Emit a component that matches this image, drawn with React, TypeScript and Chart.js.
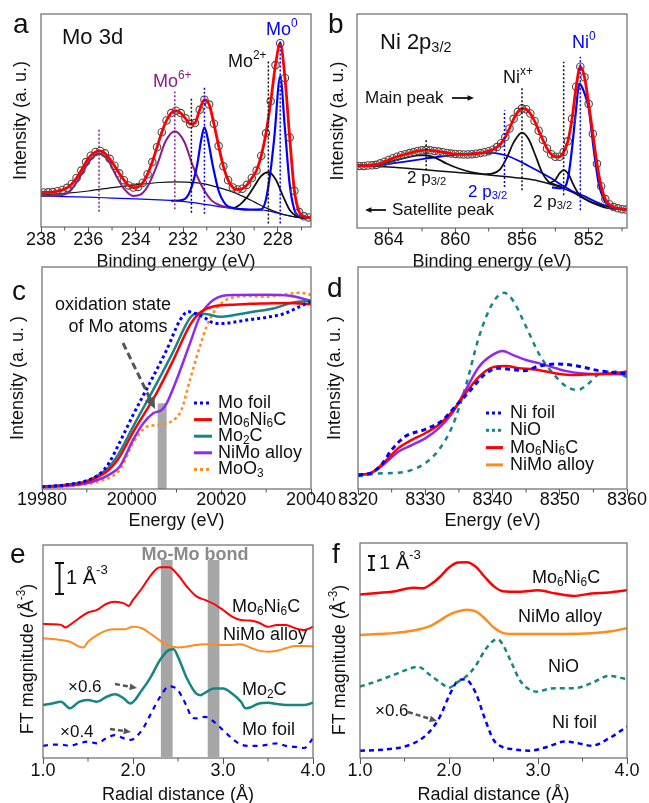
import React, { useEffect, useRef } from "react";
import { Chart, registerables } from "chart.js";

Chart.register(...registerables);

const FONT = "'Liberation Sans', Arial, Helvetica, sans-serif";
Chart.defaults.font.family = FONT;
Chart.defaults.color = "#111";

type P = [number, number];

// ---------------- (a) Mo 3d XPS ----------------
const moX = [238.1, 237.9, 237.7, 237.5, 237.3, 237.1, 236.9, 236.7, 236.5, 236.3, 236.1, 235.9, 235.7, 235.5, 235.3, 235.1, 234.9, 234.7, 234.5, 234.3, 234.1, 233.9, 233.7, 233.5, 233.3, 233.1, 232.9, 232.7, 232.5, 232.3, 232.1, 231.9, 231.7, 231.5, 231.3, 231.1, 230.9, 230.7, 230.5, 230.3, 230.1, 229.9, 229.7, 229.5, 229.3, 229.1, 228.9, 228.7, 228.5, 228.3, 228.1, 227.9, 227.7, 227.5, 227.3, 227.1, 226.9, 226.7, 226.5];
const moExp = [16.1, 16.2, 16.3, 16.4, 16.8, 17.4, 18.4, 20.2, 23.0, 26.5, 30.5, 33.5, 35.2, 35.7, 34.6, 32.0, 28.8, 25.2, 22.0, 19.5, 18.5, 18.8, 20.8, 24.8, 30.5, 37.5, 44.5, 50.0, 53.5, 54.6, 53.5, 51.0, 48.3, 48.8, 55.0, 59.8, 57.5, 48.5, 38.0, 28.5, 22.0, 18.6, 17.6, 18.0, 19.8, 23.0, 26.5, 33.5, 44.0, 59.0, 76.0, 86.3, 70.0, 42.0, 17.0, 7.0, 5.0, 4.5, 4.3];
const moBgBlue: P[] = [[238.1, 14.5], [237, 14.3], [236, 14], [235, 13.6], [234, 13.2], [233, 12.7], [232, 12], [231, 10.5], [230, 8.8], [229, 8.1], [228.4, 7.6], [228, 6.5], [227.6, 5.4], [227.2, 4.6], [226.5, 4.2]];
const moBgBlack: P[] = [[238.1, 15], [237, 15.8], [236, 16.9], [235, 18.5], [234, 19.8], [233, 20.9], [232.3, 21.2], [231.5, 20.8], [231, 20], [230.5, 18.5], [230, 16.8], [229.5, 14.5], [229, 11.8], [228.5, 9], [228, 6.8], [227.5, 5.2], [227, 4.3], [226.5, 4.2]];
const moMo2: P[] = [[229.9, 8.5], [229.6, 10.5], [229.3, 14], [229, 19], [228.7, 24], [228.4, 25.7], [228.1, 22.5], [227.8, 15], [227.5, 8], [227.2, 5], [226.9, 4.3]];
const moMo0: P[] = [[232.5, 12.3], [232.0, 12.8], [231.7, 17], [231.4, 29.5], [231.25, 40], [231.1, 46.8], [230.95, 41], [230.75, 29], [230.5, 17], [230.2, 10.5], [229.9, 9], [229.2, 8.2], [228.7, 8.3], [228.5, 13], [228.3, 27], [228.15, 42], [227.9, 70.7], [227.7, 46], [227.5, 20], [227.3, 8], [227.1, 5], [226.8, 4.3]];
const moMo6: P[] = [[238.1, 14.6], [237.3, 14.8], [236.8, 16.5], [236.3, 24.5], [235.95, 31], [235.55, 34.5], [235.15, 31], [234.85, 24.5], [234.5, 18], [234.1, 14.6], [233.8, 15.2], [233.5, 19], [233.1, 29], [232.75, 40], [232.35, 45], [231.95, 40], [231.6, 29], [231.2, 19], [230.8, 12.5], [230.4, 10], [230, 9]];
const moMarkX = [235.55, 232.35, 231.65, 231.1, 228.4, 227.9];
const moMarkLo = [7.2, 8.3, 6.7, 6.2, 1.7, 1.7];
const moMarkHi = [46, 63.6, 61, 65.7, 78.5, 87.8];
const aTicks = [228, 230, 232, 234, 236, 238];
const aMinor = [227, 229, 231, 233, 235, 237];

// ---------------- (b) Ni 2p3/2 XPS ----------------
const niX = [866.0, 865.75, 865.5, 865.25, 865.0, 864.75, 864.5, 864.25, 864.0, 863.75, 863.5, 863.25, 863.0, 862.75, 862.5, 862.25, 862.0, 861.75, 861.5, 861.25, 861.0, 860.75, 860.5, 860.25, 860.0, 859.75, 859.5, 859.25, 859.0, 858.75, 858.5, 858.25, 858.0, 857.75, 857.5, 857.25, 857.0, 856.75, 856.5, 856.25, 856.0, 855.75, 855.5, 855.25, 855.0, 854.75, 854.5, 854.25, 854.0, 853.75, 853.5, 853.25, 853.0, 852.75, 852.5, 852.25, 852.0, 851.75, 851.5, 851.25, 851.0, 850.75, 850.5, 850.25, 850.0, 849.75, 849.5];
const niExp = [29, 29, 29, 29.2, 29.3, 29.5, 30.2, 31, 31.8, 32.6, 33.3, 34, 34.5, 35, 35.5, 36, 36.3, 36.4, 36.3, 36, 35.7, 35.4, 35.1, 34.8, 34.6, 34.5, 34.4, 34.4, 34.5, 34.7, 35, 35.4, 35.9, 36.6, 37.8, 39.6, 42.5, 46.5, 51, 54.3, 55.9, 55.5, 53.5, 50, 45.5, 41.2, 37.2, 34.5, 33.3, 33.3, 35.5, 40.5, 51, 66, 75.4, 70.5, 58, 44, 30, 19.5, 13.5, 11, 9.8, 9.2, 8.8, 8.6, 8.5];
const niBgBlack: P[] = [[866, 29.3], [864, 28.5], [862, 27.3], [860, 26], [858, 24.8], [856, 23.2], [855, 22], [854, 19.8], [853, 16.8], [852, 12.5], [851, 9.5], [850, 8.7], [849.5, 8.6]];
const niSat: P[] = [[866, 29.3], [865, 29.6], [864, 30.8], [863, 32.8], [862.2, 33.9], [861.8, 34], [861.2, 32.8], [860.5, 30], [859.8, 27.8], [859.0, 26], [858.3, 25.1]];
const niNix: P[] = [[858.3, 25.1], [857.8, 25.4], [857.3, 27.5], [856.9, 33], [856.5, 40], [856.0, 44.6], [855.6, 41.5], [855.2, 34], [854.8, 26], [854.4, 21.5], [854.0, 20.2], [853.6, 19.3]];
const niSmall: P[] = [[854.4, 20.8], [854.0, 22.5], [853.75, 25.5], [853.5, 27], [853.2, 25], [852.9, 20], [852.6, 16], [852.2, 13.5], [851.8, 12], [851, 10], [850, 8.7]];
const niBlueBroad: P[] = [[866, 29], [865, 29.2], [864, 29.9], [863, 31], [862, 32.2], [861, 33.3], [860, 34.2], [859, 34.9], [858.3, 35.1], [857.6, 35], [857, 34], [856.3, 31.8], [855.6, 29], [855, 26.5], [854.3, 23.5], [853.6, 20], [853, 17.3], [852.3, 15], [851.6, 12.3], [851, 10.5], [850.3, 9.2], [849.5, 8.6]];
const niNi0: P[] = [[854.2, 19], [853.7, 18.5], [853.4, 19.5], [853.2, 25], [853.0, 37], [852.8, 52], [852.55, 67.5], [852.3, 64], [852.0, 56], [851.7, 37], [851.4, 21], [851.1, 13.5], [850.8, 10.5], [850.3, 9.2], [849.5, 8.6]];
const niMarkX = [861.75, 857.05, 856.0, 853.5, 852.5];
const niMarkLo = [27, 19.2, 17.6, 15.3, 8.3];
const niMarkHi = [41.8, 55, 66, 77.7, 80];
const bTicks = [852, 856, 860, 864];
const bMinor = [850, 854, 858, 862];

// ---------------- (c) Mo K-edge XANES ----------------
const cMoFoil: P[] = [[19980, 1], [19985, 1.8], [19990, 3.8], [19993, 7], [19995, 11.9], [19997.3, 20.9], [20000.3, 33.3], [20004, 47.6], [20007.8, 62.6], [20010.8, 76.1], [20012.6, 79.9], [20014, 79.2], [20016, 77.5], [20018, 75], [20020, 74.5], [20023, 75.2], [20026, 76.2], [20030, 77.3], [20034, 79], [20037.5, 82.2], [20040, 84.5]];
const cMo6Ni6C: P[] = [[19980, 1], [19985, 1.7], [19990, 3.3], [19993, 6], [19995, 8.8], [19997, 13.5], [20000.3, 25.5], [20003, 34.5], [20005.5, 43], [20009.3, 58.1], [20013, 73.8], [20015.2, 79.4], [20018.2, 82.2], [20022, 83], [20026, 83.4], [20030, 83.6], [20035, 83.8], [20040, 83.2]];
const cMo2C: P[] = [[19980, 1], [19985, 1.8], [19990, 3.6], [19993, 6.8], [19995, 10], [19997, 15.5], [20000.3, 28], [20005.7, 48], [20009.3, 62], [20013, 77], [20014.5, 79.1], [20017, 78.7], [20019.7, 77.6], [20022.7, 78.3], [20027.1, 79.8], [20031.6, 81.3], [20036, 84], [20040, 84.8]];
const cNiMo: P[] = [[19980, 0.8], [19985, 1.3], [19990, 2.6], [19993, 4.5], [19995, 6.5], [19997.3, 10], [20000.3, 22], [20002.6, 29.6], [20004.8, 34.1], [20006.7, 35.6], [20007.8, 38.6], [20010, 49.1], [20013, 65.6], [20015.2, 77.6], [20018.2, 85.1], [20022.7, 87.4], [20030.1, 87.5], [20035.3, 87], [20040, 84.8]];
const cMoO3: P[] = [[19980, 0.8], [19985, 1.2], [19990, 2.2], [19993, 3.6], [19995, 5], [19997.5, 9], [20000.3, 20.6], [20003.3, 28], [20005.5, 28.8], [20009.3, 31], [20011.1, 35.6], [20013, 49.1], [20015.2, 64.1], [20016.7, 73.1], [20018.9, 81.3], [20021.9, 85.9], [20026.4, 86.9], [20030.1, 86.6], [20034.6, 87.8], [20037.6, 88.4], [20040, 87.4]];
const cBar = [20005.8, 20007.8, 38.6];
const cTicks = [19980, 20000, 20020, 20040];
const cMinor = [19990, 20010, 20030];
const cNames = ["Mo foil", "Mo_{6}Ni_{6}C", "Mo_{2}C", "NiMo alloy", "MoO_{3}"];

// ---------------- (d) Ni K-edge XANES ----------------
const dNiFoil: P[] = [[8320, 6.3], [8322, 7.3], [8323.5, 11], [8325, 17.6], [8327, 23.6], [8330, 26.9], [8332.4, 30.6], [8335, 38.9], [8336.4, 43.4], [8338.9, 51.8], [8340.9, 54.4], [8342.9, 53.8], [8344.8, 53.3], [8346.8, 55.3], [8349.8, 56.3], [8352.8, 55.3], [8355.8, 53.3], [8360, 51.8]];
const dNiO: P[] = [[8320, 5.8], [8323, 7], [8326, 7.3], [8328, 8.6], [8330, 11.6], [8332, 17.6], [8334, 28.1], [8336, 46.1], [8338, 68.6], [8340, 83.6], [8341.7, 88.4], [8343, 85.1], [8345, 73.1], [8347, 60.4], [8349, 52.1], [8351, 46.1], [8352.7, 44.6], [8354, 46.8], [8356, 52.1], [8358, 52.9], [8360, 50.3]];
const dMo6Ni6C: P[] = [[8320, 6.3], [8322, 7.3], [8324, 12.3], [8326, 18.4], [8328, 22.1], [8330, 25.1], [8332, 28.9], [8334, 34.9], [8336, 43.1], [8338, 50.6], [8340, 54.8], [8342, 55.4], [8344, 54.4], [8346, 53.9], [8348, 52.9], [8350, 51.8], [8352, 51.3], [8354, 51.6], [8356, 51.8], [8358, 52.1], [8360, 52.9]];
const dNiMo: P[] = [[8320, 6.3], [8322, 7.3], [8324, 11.5], [8326, 16.8], [8328, 19.8], [8330, 22.8], [8332, 27.3], [8334, 34.1], [8336, 44.6], [8338, 55.1], [8340, 60.4], [8341.5, 62.2], [8343, 60.4], [8345, 58.1], [8347, 56.6], [8349, 54.8], [8351, 53.1], [8353, 52.1], [8355, 51.8], [8357, 51.8], [8360, 51.6]];
const dTicks = [8320, 8330, 8340, 8350, 8360];
const dMinor = [8325, 8335, 8345, 8355];
const dNames = ["Ni foil", "NiO", "Mo_{6}Ni_{6}C", "NiMo alloy"];

// ---------------- (e) Mo K-edge FT-EXAFS ----------------
const eMo6Ni6C: P[] = [[1, 62.9], [1.1, 62.8], [1.2, 62.5], [1.25, 61.3], [1.3, 62.5], [1.4, 65.6], [1.5, 68.3], [1.6, 69.5], [1.7, 72.3], [1.8, 73.4], [1.9, 72.6], [1.95, 71.4], [2.0, 74.2], [2.1, 79.7], [2.2, 85.9], [2.3, 89.5], [2.4, 89.5], [2.5, 85.9], [2.6, 80.4], [2.7, 76], [2.8, 74.2], [2.9, 72.3], [3.0, 69.5], [3.1, 66.4], [3.2, 64.8], [3.3, 64.5], [3.4, 63.5], [3.5, 61.6], [3.6, 62.5], [3.7, 62.5], [3.8, 60.9], [3.9, 60.1], [4.0, 61.6]];
const eNiMo: P[] = [[1, 56.2], [1.2, 55.4], [1.3, 54.6], [1.4, 52.3], [1.45, 51.9], [1.5, 54.6], [1.6, 57.7], [1.7, 59.8], [1.8, 60.4], [1.9, 60.4], [2.0, 61.6], [2.1, 60.9], [2.2, 58.2], [2.3, 55.1], [2.4, 52.7], [2.5, 51.9], [2.6, 52.3], [2.7, 53.1], [2.8, 53.4], [2.9, 53.1], [3.0, 53.1], [3.1, 53.1], [3.2, 53.4], [3.3, 51.9], [3.4, 50.4], [3.5, 49.9], [3.6, 50.4], [3.7, 51.5], [3.8, 52.6], [3.9, 52.6], [4.0, 52.3]];
const eMo2C: P[] = [[1, 24.9], [1.1, 25.6], [1.2, 26.4], [1.3, 23.3], [1.4, 26.4], [1.5, 27.2], [1.6, 26.4], [1.7, 28.6], [1.8, 29.9], [1.9, 27.9], [1.97, 25.6], [2.1, 31.9], [2.2, 38.2], [2.3, 46], [2.4, 50.7], [2.45, 51], [2.5, 47.5], [2.6, 37.3], [2.7, 30.3], [2.75, 29.5], [2.8, 30.6], [2.9, 32.6], [3.0, 32.6], [3.1, 30.3], [3.2, 26.4], [3.25, 23.3], [3.3, 23.7], [3.4, 25.6], [3.5, 25.9], [3.6, 25.3], [3.7, 24.9], [3.8, 24.9], [3.9, 24.9], [4.0, 25.9]];
const eMoFoil: P[] = [[1, 5.7], [1.1, 6.3], [1.2, 6.3], [1.3, 5.7], [1.4, 6.9], [1.5, 7.7], [1.6, 6.9], [1.7, 9.2], [1.8, 10.7], [1.9, 9.2], [1.97, 8.5], [2.1, 13.1], [2.2, 20.9], [2.3, 28.6], [2.4, 33.6], [2.45, 33.3], [2.5, 31.8], [2.6, 24], [2.65, 19.3], [2.7, 18.6], [2.8, 19.3], [2.9, 17], [3.0, 13.1], [3.1, 9.2], [3.2, 6.3], [3.3, 5.7], [3.4, 5.7], [3.5, 6.3], [3.6, 6.9], [3.7, 5.7], [3.8, 5.2], [3.9, 4.7], [4.0, 9.2]];
const eBondLo = [2.31, 2.83];
const eBondHi = [2.44, 2.96];
const eBondY = [0.5, 93];

// ---------------- (f) Ni K-edge FT-EXAFS ----------------
const fMo6Ni6C: P[] = [[1, 76.1], [1.2, 76.8], [1.4, 77.6], [1.6, 79.2], [1.7, 78.9], [1.8, 80.9], [1.9, 84.3], [2.0, 88.6], [2.1, 90.9], [2.2, 91.1], [2.3, 89], [2.4, 84.3], [2.5, 80], [2.6, 77.6], [2.8, 77.3], [3.0, 78], [3.2, 76.5], [3.4, 75.4], [3.6, 76.5], [3.8, 77], [4.0, 78]];
const fNiMo: P[] = [[1, 57.2], [1.2, 57.7], [1.4, 58.2], [1.6, 59.3], [1.8, 61.6], [1.9, 64], [2.0, 66.6], [2.1, 68.2], [2.2, 69], [2.3, 68.2], [2.4, 65], [2.5, 60.8], [2.6, 58.2], [2.7, 57.7], [3.0, 57.7], [3.3, 57.7], [3.6, 58], [3.8, 58.8], [4.0, 60.4]];
const fNiO: P[] = [[1, 33.2], [1.2, 35.9], [1.4, 39], [1.6, 42.1], [1.65, 42.4], [1.8, 38.2], [1.9, 35.2], [2.0, 32.7], [2.1, 35.4], [2.2, 38.2], [2.3, 42.9], [2.4, 49.9], [2.5, 54.6], [2.55, 55.1], [2.6, 53.1], [2.7, 44.5], [2.8, 35.9], [2.9, 32], [3.0, 30.8], [3.1, 32], [3.2, 32.4], [3.4, 32.4], [3.6, 34.8], [3.8, 38.2], [4.0, 36.6]];
const fNiFoil: P[] = [[1, 3.4], [1.2, 3.7], [1.4, 4.5], [1.5, 5.3], [1.6, 6.8], [1.7, 9.2], [1.8, 13.1], [1.9, 19.4], [2.0, 28.8], [2.1, 35.9], [2.18, 36.6], [2.3, 30.3], [2.4, 18.6], [2.5, 8.5], [2.6, 5.1], [2.7, 4.2], [2.9, 3.4], [3.1, 5.1], [3.3, 7.7], [3.45, 6.9], [3.6, 5.7], [3.8, 9.2], [4.0, 14.6]];
const efTicks = [1, 2, 3, 4];
const efMinor = [1.5, 2.5, 3.5];

// ---------------- colours ----------------
const RED = "#ff0000";
const BLUE = "#0000ff";
const PURPLE = "#8b1a8b";
const VIOLET = "#8f2bef";
const TEAL = "#168585";
const ORANGE = "#ff8c1a";
const BLACK = "#111111";
const DARK = "#555555";

// ---------------- helpers ----------------
type Seg = { t: string; k: 0 | 1 | 2 };
function parseRich(s: string): Seg[] {
  const out: Seg[] = [];
  const re = /\^\{([^}]*)\}|_\{([^}]*)\}/g;
  let last = 0;
  let m: RegExpExecArray | null;
  while ((m = re.exec(s))) {
    if (m.index > last) out.push({ t: s.slice(last, m.index), k: 0 });
    if (m[1] !== undefined) out.push({ t: m[1], k: 1 });
    else out.push({ t: m[2], k: 2 });
    last = re.lastIndex;
  }
  if (last < s.length) out.push({ t: s.slice(last), k: 0 });
  return out;
}

function rich(ctx: CanvasRenderingContext2D, s: string, x: number, y: number, size: number, color: string, align: "left" | "center" | "right" = "left", weight = "normal") {
  const segs = parseRich(s);
  const small = size * 0.66;
  ctx.save();
  let total = 0;
  const ws = segs.map((sg) => {
    ctx.font = `${weight} ${sg.k ? small : size}px ${FONT}`;
    const w = ctx.measureText(sg.t).width;
    total += w;
    return w;
  });
  let cx = align === "center" ? x - total / 2 : align === "right" ? x - total : x;
  ctx.fillStyle = color;
  ctx.textBaseline = "middle";
  ctx.textAlign = "left";
  segs.forEach((sg, i) => {
    ctx.font = `${weight} ${sg.k ? small : size}px ${FONT}`;
    const dy = sg.k === 1 ? -size * 0.36 : sg.k === 2 ? size * 0.24 : 0;
    ctx.fillText(sg.t, cx, y + dy);
    cx += ws[i];
  });
  ctx.restore();
}

function arrow(ctx: CanvasRenderingContext2D, x1: number, y1: number, x2: number, y2: number, color: string, width: number, dash: number[], head: number) {
  ctx.save();
  ctx.strokeStyle = color;
  ctx.fillStyle = color;
  ctx.lineWidth = width;
  const a = Math.atan2(y2 - y1, x2 - x1);
  ctx.setLineDash(dash);
  ctx.beginPath();
  ctx.moveTo(x1, y1);
  ctx.lineTo(x2 - Math.cos(a) * head * 0.8, y2 - Math.sin(a) * head * 0.8);
  ctx.stroke();
  ctx.setLineDash([]);
  ctx.beginPath();
  ctx.moveTo(x2, y2);
  ctx.lineTo(x2 - head * Math.cos(a - 0.42), y2 - head * Math.sin(a - 0.42));
  ctx.lineTo(x2 - head * Math.cos(a + 0.42), y2 - head * Math.sin(a + 0.42));
  ctx.closePath();
  ctx.fill();
  ctx.restore();
}

function frame(c: any, minor: number[], letter: string, lx: number, ly: number) {
  const ctx: CanvasRenderingContext2D = c.ctx;
  const { left, right, top, bottom } = c.chartArea;
  ctx.save();
  ctx.strokeStyle = "#6a6a6a";
  ctx.lineWidth = 1.2;
  ctx.strokeRect(left, top, right - left, bottom - top);
  ctx.strokeStyle = "#555";
  ctx.lineWidth = 1;
  minor.forEach((v) => {
    const x = c.scales.x.getPixelForValue(v);
    ctx.beginPath();
    ctx.moveTo(x, bottom);
    ctx.lineTo(x, bottom + 3.5);
    ctx.stroke();
  });
  ctx.fillStyle = BLACK;
  ctx.font = `28px ${FONT}`;
  ctx.textBaseline = "alphabetic";
  ctx.textAlign = "left";
  ctx.fillText(letter, lx, ly);
  ctx.restore();
}

function legend(ctx: CanvasRenderingContext2D, names: string[], colors: string[], dashes: number[][], x1: number, x2: number, tx: number, y0: number, dy: number) {
  names.forEach((n, i) => {
    const y = y0 + i * dy;
    ctx.save();
    ctx.strokeStyle = colors[i];
    ctx.lineWidth = 3;
    ctx.setLineDash(dashes[i]);
    ctx.beginPath();
    ctx.moveTo(x1, y);
    ctx.lineTo(x2, y);
    ctx.stroke();
    ctx.restore();
    rich(ctx, n, tx, y, 18, BLACK);
  });
}

const line = (data: P[], color: string, width: number, dash: number[] = []) => ({
  data,
  borderColor: color,
  borderWidth: width,
  borderDash: dash,
  pointRadius: 0,
  fill: false,
  cubicInterpolationMode: "monotone" as const,
});

const markers = (xs: number[], lo: number[], hi: number[], colors: string[]) =>
  xs.map((x, i) => ({
    data: [[x, lo[i]], [x, hi[i]]] as P[],
    borderColor: colors[i],
    borderWidth: 1.5,
    borderDash: [2, 2],
    pointRadius: 0,
    fill: false,
  }));

const circles = (xs: number[], ys: number[]) => ({
  data: xs.map((x, i) => [x, ys[i]] as P),
  showLine: false,
  pointRadius: 3.7,
  pointStyle: "circle",
  pointBorderColor: "#4a4a4a",
  pointBackgroundColor: "rgba(255,255,255,0)",
  pointBorderWidth: 1.1,
});

type Area = { l: number; r: number; t: number; b: number };
type Opts = {
  area: Area;
  xMin: number;
  xMax: number;
  reverse?: boolean;
  tickVals: number[];
  fmt: (v: number) => string;
  xTitle: string;
  yTitle: string;
  yTitleX: number;
  xTitleY: number;
  tickY: number;
  datasets: any[];
  before?: (c: any) => void;
  after?: (c: any) => void;
};

function makeConfig(o: Opts): any {
  const LH = 18 * 1.2;
  const pl = o.yTitleX - LH / 2;
  const wy = o.area.l - pl;
  const hx = 45;
  const pb = 803 - o.area.b - hx;
  const titlePadB = o.area.b + hx - LH / 2 - o.xTitleY;
  const tickLen = 6;
  const tickPad = o.tickY - o.area.b - tickLen - LH / 2;
  return {
    type: "line",
    data: { datasets: o.datasets },
    options: {
      animation: false,
      responsive: false,
      devicePixelRatio: 1,
      events: [],
      layout: { autoPadding: false, padding: { left: pl, right: 649 - o.area.r, top: o.area.t, bottom: pb } },
      plugins: { legend: { display: false }, tooltip: { enabled: false }, title: { display: false } },
      scales: {
        x: {
          type: "linear",
          min: o.xMin,
          max: o.xMax,
          bounds: "data",
          reverse: !!o.reverse,
          afterBuildTicks: (s: any) => {
            s.ticks = o.tickVals.map((v) => ({ value: v }));
          },
          afterFit: (s: any) => {
            s.height = hx;
            s.paddingLeft = 0;
            s.paddingRight = 0;
          },
          ticks: {
            autoSkip: false,
            maxRotation: 0,
            minRotation: 0,
            padding: tickPad,
            color: BLACK,
            font: { size: 18, family: FONT },
            callback: (v: any) => o.fmt(Number(v)),
          },
          grid: { display: true, drawOnChartArea: false, drawTicks: true, tickLength: tickLen, color: "#555", lineWidth: 1 },
          border: { display: false },
          title: { display: true, text: o.xTitle, color: BLACK, font: { size: 18, family: FONT }, padding: { top: 0, bottom: titlePadB } },
        },
        y: {
          type: "linear",
          min: 0,
          max: 100,
          afterFit: (s: any) => {
            s.width = wy;
            s.paddingTop = 0;
            s.paddingBottom = 0;
          },
          ticks: { display: false },
          grid: { display: false },
          border: { display: false },
          title: { display: o.yTitle !== "", text: o.yTitle, color: BLACK, font: { size: 18, family: FONT }, padding: { top: 0, bottom: 0 } },
        },
      },
    },
    plugins: [
      {
        id: "decor",
        beforeDatasetsDraw: (c: any) => o.before && o.before(c),
        afterDraw: (c: any) => o.after && o.after(c),
      },
    ],
  };
}

// ---------------- panel configs ----------------
const makeA = () =>
  makeConfig({
    area: { l: 41, r: 311, t: 14, b: 227 },
    xMin: 226.6,
    xMax: 238,
    reverse: true,
    tickVals: aTicks,
    fmt: (v) => String(v),
    xTitle: "Binding energy (eV)",
    yTitle: "Intensity (a. u.)",
    yTitleX: 21,
    xTitleY: 262,
    tickY: 240,
    datasets: [
      ...markers(moMarkX, moMarkLo, moMarkHi, [PURPLE, PURPLE, BLACK, BLUE, BLACK, BLUE]),
      line(moX.map((x, i) => [x, moExp[i]] as P), RED, 2.8),
      circles(moX, moExp),
      line(moMo0, BLUE, 2.2),
      line(moMo6, PURPLE, 2),
      line(moMo2, BLACK, 1.8),
      line(moBgBlack, BLACK, 1.2),
      line(moBgBlue, BLUE, 1.2),
    ],
    after: (c) => {
      frame(c, aMinor, "a", 13, 33);
      const ctx = c.ctx;
      rich(ctx, "Mo 3d", 62, 38, 22, BLACK);
      rich(ctx, "Mo^{6+}", 153, 82, 18, PURPLE);
      rich(ctx, "Mo^{2+}", 228, 62, 18, BLACK);
      rich(ctx, "Mo^{0}", 266, 30, 18, BLUE);
    },
  });

const makeB = () =>
  makeConfig({
    area: { l: 357, r: 627, t: 14, b: 228 },
    xMin: 849.7,
    xMax: 865.9,
    reverse: true,
    tickVals: bTicks,
    fmt: (v) => String(v),
    xTitle: "Binding energy (eV)",
    yTitle: "Intensity (a. u.)",
    yTitleX: 338,
    xTitleY: 262,
    tickY: 240,
    datasets: [
      ...markers(niMarkX, niMarkLo, niMarkHi, [BLACK, BLUE, BLACK, BLACK, BLUE]),
      line(niX.map((x, i) => [x, niExp[i]] as P), RED, 2.8),
      circles(niX, niExp),
      line(niNi0, BLUE, 2.2),
      line(niNix, BLACK, 1.8),
      line(niSmall, BLACK, 1.8),
      line(niSat, BLACK, 1.8),
      line(niBlueBroad, BLUE, 1.8),
      line(niBgBlack, BLACK, 1.5),
    ],
    after: (c) => {
      frame(c, bMinor, "b", 328, 33);
      const ctx = c.ctx;
      rich(ctx, "Ni 2p_{3/2}", 380, 43, 22, BLACK);
      rich(ctx, "Ni^{0}", 572, 43, 18, BLUE);
      rich(ctx, "Ni^{x+}", 503, 78, 18, BLACK);
      rich(ctx, "Main peak", 365, 98, 17, BLACK);
      arrow(ctx, 452, 98, 474, 98, BLACK, 1.8, [], 7);
      rich(ctx, "2 p_{3/2}", 407, 178, 17, BLACK);
      rich(ctx, "2 p_{3/2}", 468, 192, 17, BLUE);
      rich(ctx, "2 p_{3/2}", 533, 202, 17, BLACK);
      rich(ctx, "Satellite peak", 392, 210, 17, BLACK);
      arrow(ctx, 386, 210, 365, 210, BLACK, 1.8, [], 7);
    },
  });

const makeC = () =>
  makeConfig({
    area: { l: 42, r: 311, t: 267, b: 489 },
    xMin: 19980,
    xMax: 20040,
    tickVals: cTicks,
    fmt: (v) => String(v),
    xTitle: "Energy (eV)",
    yTitle: "Intensity (a. u. )",
    yTitleX: 18,
    xTitleY: 521,
    tickY: 500.5,
    datasets: [
      line(cMoFoil, BLUE, 3, [3, 3]),
      line(cMo6Ni6C, RED, 2.5),
      line(cMo2C, TEAL, 2.5),
      line(cNiMo, VIOLET, 2.5),
      line(cMoO3, ORANGE, 2.5, [3, 3]),
    ],
    before: (c) => {
      const ctx = c.ctx;
      const x = c.scales.x;
      const y = c.scales.y;
      ctx.save();
      ctx.fillStyle = "#a8a8a8";
      const x0 = x.getPixelForValue(cBar[0]);
      const x1 = x.getPixelForValue(cBar[1]);
      const y1 = y.getPixelForValue(cBar[2]);
      ctx.fillRect(x0, y1, x1 - x0, c.chartArea.bottom - y1);
      ctx.restore();
    },
    after: (c) => {
      frame(c, cMinor, "c", 12, 300);
      const ctx = c.ctx;
      rich(ctx, "oxidation state", 113, 305, 18, BLACK, "center");
      rich(ctx, "of Mo atoms", 118, 327, 18, BLACK, "center");
      arrow(ctx, 123, 343, 155, 409, DARK, 3, [7, 4], 13);
      legend(ctx, cNames, [BLUE, RED, TEAL, VIOLET, ORANGE], [[3, 3], [], [], [], [3, 3]], 194, 212, 218, 403, 16.6);
    },
  });

const makeD = () =>
  makeConfig({
    area: { l: 358, r: 627, t: 267, b: 489 },
    xMin: 8320,
    xMax: 8360,
    tickVals: dTicks,
    fmt: (v) => String(v),
    xTitle: "Energy (eV)",
    yTitle: "Intensity (a. u. )",
    yTitleX: 335,
    xTitleY: 521,
    tickY: 500.5,
    datasets: [
      line(dNiFoil, BLUE, 3, [5, 4]),
      line(dMo6Ni6C, RED, 2.5),
      line(dNiMo, VIOLET, 2.5),
      line(dNiO, TEAL, 2.5, [5, 5]),
    ],
    after: (c) => {
      frame(c, dMinor, "d", 327, 297);
      legend(c.ctx, dNames, [BLUE, TEAL, RED, ORANGE], [[3, 3], [3, 3], [], []], 486, 503, 510, 413, 17.3);
    },
  });

function yTitleRot(ctx: CanvasRenderingContext2D, x: number, y: number) {
  ctx.save();
  ctx.translate(x, y);
  ctx.rotate(-Math.PI / 2);
  rich(ctx, "FT magnitude (Å^{-3})", 0, 0, 18, BLACK, "center");
  ctx.restore();
}

function bondBars(c: any) {
  const ctx = c.ctx;
  const x = c.scales.x;
  const y = c.scales.y;
  ctx.save();
  ctx.fillStyle = "#a6a6a6";
  eBondLo.forEach((lo, i) => {
    const x0 = x.getPixelForValue(lo);
    const x1 = x.getPixelForValue(eBondHi[i]);
    const yt = y.getPixelForValue(eBondY[1]);
    const yb = y.getPixelForValue(eBondY[0]);
    ctx.fillRect(x0, yt, x1 - x0, yb - yt);
  });
  ctx.restore();
}

function scaleBar(ctx: CanvasRenderingContext2D, x: number, y0: number, y1: number, cap: number) {
  ctx.save();
  ctx.strokeStyle = BLACK;
  ctx.lineWidth = 2;
  ctx.beginPath();
  ctx.moveTo(x, y0);
  ctx.lineTo(x, y1);
  ctx.moveTo(x - cap, y0);
  ctx.lineTo(x + cap, y0);
  ctx.moveTo(x - cap, y1);
  ctx.lineTo(x + cap, y1);
  ctx.stroke();
  ctx.restore();
}

const makeE = () =>
  makeConfig({
    area: { l: 43, r: 313, t: 545, b: 758 },
    xMin: 1,
    xMax: 4,
    tickVals: efTicks,
    fmt: (v) => v.toFixed(1),
    xTitle: "Radial distance (Å)",
    yTitle: "",
    yTitleX: 28,
    xTitleY: 795,
    tickY: 771,
    datasets: [
      line(eMo6Ni6C, RED, 2),
      line(eNiMo, ORANGE, 2),
      line(eMo2C, TEAL, 2.5),
      line(eMoFoil, BLUE, 2.2, [5, 5]),
    ],
    before: bondBars,
    after: (c) => {
      frame(c, efMinor, "e", 10, 563);
      const ctx = c.ctx;
      yTitleRot(ctx, 28, 659);
      rich(ctx, "Mo-Mo bond", 195, 555, 18, "#8a8a8a", "center", "bold");
      scaleBar(ctx, 59.5, 563, 594, 4.5);
      rich(ctx, "1 Å^{-3}", 66, 578, 20, BLACK);
      rich(ctx, "Mo_{6}Ni_{6}C", 232, 607, 18, BLACK);
      rich(ctx, "NiMo alloy", 223, 635, 18, BLACK);
      rich(ctx, "Mo_{2}C", 242, 690, 18, BLACK);
      rich(ctx, "Mo foil", 242, 730, 18, BLACK);
      rich(ctx, "×0.6", 68, 687, 17, BLACK);
      rich(ctx, "×0.4", 60, 732, 17, BLACK);
      arrow(ctx, 115, 684, 137, 688, DARK, 2.5, [5, 3], 8);
      arrow(ctx, 110, 729, 131, 732, DARK, 2.5, [5, 3], 8);
    },
  });

const makeF = () =>
  makeConfig({
    area: { l: 360, r: 627, t: 543, b: 758 },
    xMin: 1,
    xMax: 4,
    tickVals: efTicks,
    fmt: (v) => v.toFixed(1),
    xTitle: "Radial distance (Å)",
    yTitle: "",
    yTitleX: 340,
    xTitleY: 795,
    tickY: 771,
    datasets: [
      line(fMo6Ni6C, RED, 2.5),
      line(fNiMo, ORANGE, 2.5),
      line(fNiO, TEAL, 2.5, [5, 4]),
      line(fNiFoil, BLUE, 2.5, [5, 4]),
    ],
    after: (c) => {
      frame(c, efMinor, "f", 332, 563);
      const ctx = c.ctx;
      yTitleRot(ctx, 340, 660);
      scaleBar(ctx, 371.5, 556, 570, 3.5);
      rich(ctx, "1 Å^{-3}", 379, 563, 20, BLACK);
      rich(ctx, "Mo_{6}Ni_{6}C", 532, 578, 18, BLACK);
      rich(ctx, "NiMo alloy", 518, 617, 18, BLACK);
      rich(ctx, "NiO", 548, 667, 18, BLACK);
      rich(ctx, "Ni foil", 552, 723, 18, BLACK);
      rich(ctx, "×0.6", 375, 711, 17, BLACK);
      arrow(ctx, 408, 712, 437, 721, DARK, 2.5, [5, 3], 8);
    },
  });

const builders = [makeA, makeB, makeC, makeD, makeE, makeF];

function ChartCanvas({ make }: { make: () => any }) {
  const ref = useRef<HTMLCanvasElement | null>(null);
  useEffect(() => {
    const chart = new Chart(ref.current as HTMLCanvasElement, make());
    return () => chart.destroy();
  }, [make]);
  return (
    <canvas
      ref={ref}
      width={649}
      height={803}
      style={{ position: "absolute", left: 0, top: 0, width: 649, height: 803 }}
    />
  );
}

export default function App() {
  return (
    <div style={{ position: "absolute", left: 0, top: 0, width: 649, height: 803, background: "#fff", overflow: "hidden" }}>
      {builders.map((b, i) => (
        <ChartCanvas key={i} make={b} />
      ))}
    </div>
  );
}
